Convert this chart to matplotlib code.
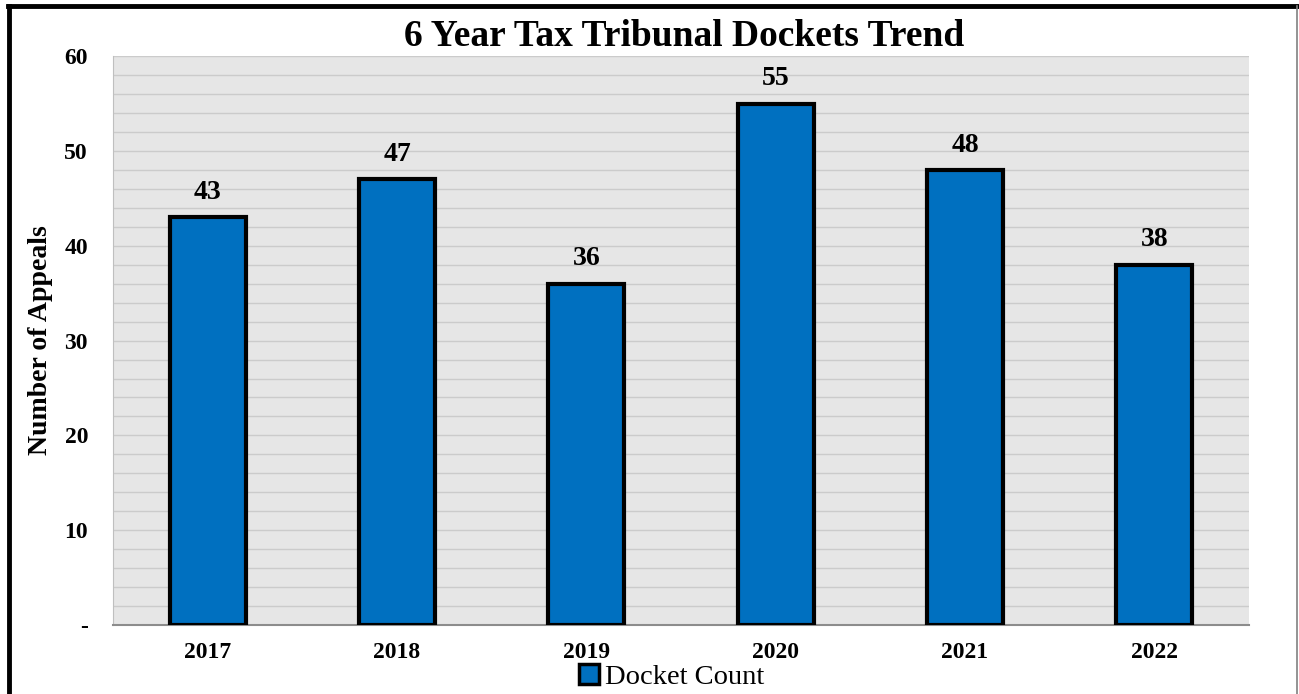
import matplotlib.pyplot as plt
from matplotlib.lines import Line2D
from matplotlib.patches import Patch

years = ['2017', '2018', '2019', '2020', '2021', '2022']
dockets = [43, 47, 36, 55, 48, 38]
yticks = [0, 10, 20, 30, 40, 50, 60]
ytick_labels = ['-', '10', '20', '30', '40', '50', '60']

plt.rcParams['font.family'] = ['Liberation Serif', 'DejaVu Serif']

fig = plt.figure(figsize=(12.99, 6.94), dpi=100)
ax = fig.add_axes([0.087, 0.0994, 0.8745, 0.8196])
ax.set_facecolor('#e6e6e6')

x = range(len(years))
bars = ax.bar(x, dockets, width=0.4, color='#0070c0', edgecolor='black',
              linewidth=3, zorder=3, label='Docket Count')

for rect, val in zip(bars, dockets):
    ax.text(rect.get_x() + rect.get_width() / 2, val + 1.3, str(val),
            ha='center', va='bottom', fontsize=20, fontweight='bold')

# light grid every 2 appeals
for y in range(2, 61, 2):
    ax.axhline(y, color='#cbcbcb', lw=1.0, zorder=1)

ax.set_xlim(-0.5, 5.5)
ax.set_ylim(0, 60)
ax.set_xticks(list(x))
ax.set_xticklabels(years, fontsize=17, fontweight='bold')
ax.set_yticks(yticks)
ax.set_yticklabels(ytick_labels, fontsize=17, fontweight='bold')
ax.tick_params(length=0, pad=12)
ax.tick_params(axis='y', pad=18)

for side in ['top', 'right']:
    ax.spines[side].set_visible(False)
ax.spines['left'].set_color('#bfbfbf')
ax.spines['bottom'].set_color('#8c8c8c')
ax.spines['bottom'].set_linewidth(1.5)

ax.set_ylabel('Number of Appeals', fontsize=20, fontweight='bold', labelpad=8)
fig.text(0.527, 0.948, '6 Year Tax Tribunal Dockets Trend', ha='center',
         va='center', fontsize=27, fontweight='bold')

handle = Patch(facecolor='#0070c0', edgecolor='black', linewidth=2.5)
fig.legend([handle], ['Docket Count'], loc='center', bbox_to_anchor=(0.517, 0.024),
           frameon=False, fontsize=20.5, handlelength=0.7, handleheight=0.7,
           handletextpad=0.2, borderpad=0)

# outer frame
fig.add_artist(Line2D([0.006, 0.999], [0.9915, 0.9915], color='black', lw=3.5))
fig.add_artist(Line2D([0.0068, 0.0068], [0.0, 0.992], color='black', lw=3.5))
fig.add_artist(Line2D([0.9985, 0.9985], [0.0, 0.992], color='#808080', lw=1.2))

fig.savefig('out.png', dpi=100)
